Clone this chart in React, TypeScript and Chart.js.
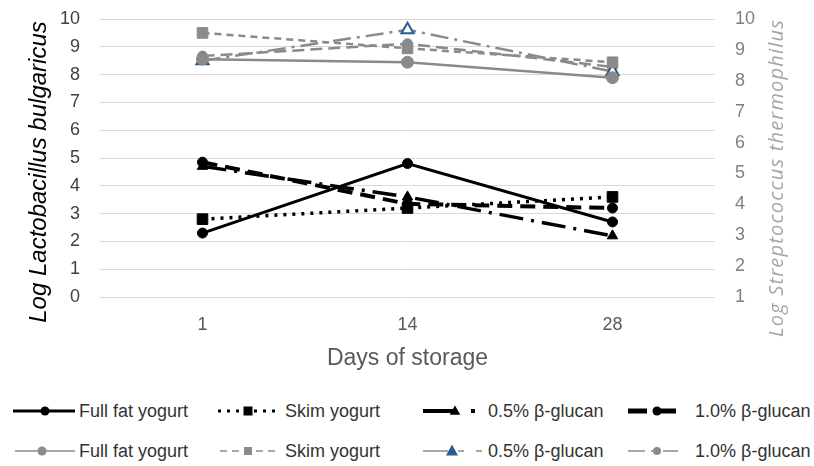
import React, { useEffect, useRef } from 'react';
import { Chart, registerables } from 'chart.js';
Chart.register(...registerables);

// ---- data ----
const days = ['1', '14', '28'];
const seriesNames = ['Full fat yogurt', 'Skim yogurt', '0.5% β-glucan', '1.0% β-glucan'];
// Lactobacillus bulgaricus (left axis, black)
const lbFullFat = [2.3, 4.8, 2.7];
const lbSkim = [2.8, 3.2, 3.6];
const lb05 = [4.7, 3.6, 2.2];
const lb10 = [4.85, 3.35, 3.2];
// Streptococcus thermophilus (right axis, grey)
const stFullFat = [8.7, 8.6, 8.1];
const stSkim = [9.55, 9.05, 8.6];
const st05 = [8.65, 9.65, 8.3];
const st10 = [8.8, 9.2, 8.45];
const leftRange = [0, 10];
const rightRange = [1, 10];
const xTitle = 'Days of storage';
const leftTitle = 'Log Lactobacillus bulgaricus';
const rightTitle = 'Log Streptococcus thermophilus';

const BLACK = '#000000';
const GREY = '#8a8a8a';
const BLUE = '#255e91';

const titlesPlugin = {
  id: 'sideTitles',
  afterDraw(chart: any) {
    const ctx = chart.ctx;
    ctx.save();
    ctx.translate(39, 172);
    ctx.rotate(-Math.PI / 2);
    ctx.font = 'italic 24px "Liberation Sans", Arial, sans-serif';
    ctx.fillStyle = '#000000';
    ctx.textAlign = 'center';
    ctx.textBaseline = 'middle';
    ctx.fillText(leftTitle, 0, 0);
    ctx.restore();

    ctx.save();
    ctx.translate(777, 178);
    ctx.rotate(-Math.PI / 2);
    ctx.font = 'italic 20px "Open Sans", "Noto Sans", sans-serif';
    try { (ctx as any).letterSpacing = '1.2px'; } catch (e) {}
    ctx.fillStyle = '#a6a6a6';
    ctx.textAlign = 'center';
    ctx.textBaseline = 'middle';
    ctx.fillText(rightTitle, 0, 0);
    ctx.restore();
  },
};

type Sym = {
  x1: number; x2: number; cx: number; color: string; width: number;
  dash?: string; marker: 'circle' | 'square' | 'triangle'; mColor: string; mSize: number;
};

const legendRows: { y: number; items: (Sym & { label: string; tx: number })[] }[] = [
  {
    y: 411,
    items: [
      { label: seriesNames[0], tx: 79, x1: 13, x2: 75, cx: 45, color: BLACK, width: 3, marker: 'circle', mColor: BLACK, mSize: 4.5 },
      { label: seriesNames[1], tx: 285, x1: 218, x2: 276, cx: 248, color: BLACK, width: 3, dash: '3 6', marker: 'square', mColor: BLACK, mSize: 9 },
      { label: seriesNames[2], tx: 488, x1: 423, x2: 477, cx: 455, color: BLACK, width: 4, dash: '33 15 4 20', marker: 'triangle', mColor: BLACK, mSize: 7 },
      { label: seriesNames[3], tx: 695, x1: 628, x2: 678, cx: 657, color: BLACK, width: 5, dash: '19 10', marker: 'circle', mColor: BLACK, mSize: 4.5 },
    ],
  },
  {
    y: 451,
    items: [
      { label: seriesNames[0], tx: 79, x1: 15, x2: 75, cx: 42, color: GREY, width: 1.5, marker: 'circle', mColor: GREY, mSize: 4.5 },
      { label: seriesNames[1], tx: 285, x1: 220, x2: 278, cx: 248, color: GREY, width: 1.5, dash: '7 5', marker: 'square', mColor: GREY, mSize: 8 },
      { label: seriesNames[2], tx: 488, x1: 423, x2: 483, cx: 452, color: GREY, width: 1.5, dash: '25 10 6 12 6', marker: 'triangle', mColor: BLUE, mSize: 8 },
      { label: seriesNames[3], tx: 695, x1: 628, x2: 678, cx: 657, color: GREY, width: 1.5, dash: '17 6 6 6', marker: 'circle', mColor: GREY, mSize: 4 },
    ],
  },
];

function LegendItem({ it, y }: { it: Sym & { label: string; tx: number }; y: number }) {
  const h = 20;
  const my = h / 2;
  const left = it.x1 - 4;
  const w = it.x2 - it.x1 + 8;
  const cx = it.cx - left;
  let marker: any = null;
  if (it.marker === 'circle') marker = <circle cx={cx} cy={my} r={it.mSize} fill={it.mColor} />;
  else if (it.marker === 'square') marker = <rect x={cx - it.mSize / 2} y={my - it.mSize / 2} width={it.mSize} height={it.mSize} fill={it.mColor} />;
  else {
    const s = it.mSize;
    marker = <polygon points={`${cx},${my - s * 0.8} ${cx - s * 0.75},${my + s * 0.55} ${cx + s * 0.75},${my + s * 0.55}`} fill={it.mColor} />;
  }
  return (
    <>
      <svg style={{ position: 'absolute', left, top: y - h / 2 }} width={w} height={h}>
        <line x1={4} x2={w - 4} y1={my} y2={my} stroke={it.color} strokeWidth={it.width} strokeDasharray={it.dash} />
        {marker}
      </svg>
      <div style={{ position: 'absolute', left: it.tx, top: y - 11, height: 22, lineHeight: '22px', fontSize: 18, fontFamily: '"Liberation Sans", Arial, sans-serif', color: '#333333', whiteSpace: 'nowrap' }}>
        {it.label}
      </div>
    </>
  );
}

export default function App() {
  const ref = useRef<HTMLCanvasElement | null>(null);
  useEffect(() => {
    document.body.style.margin = '0';
    const canvas = ref.current;
    if (!canvas) return;
    const black = (label: string, data: number[], style: string, dash: number[], width: number, radius: number) => ({
      label, data, yAxisID: 'y', borderColor: BLACK, backgroundColor: BLACK, borderWidth: width, borderDash: dash,
      pointStyle: style, pointRadius: radius, pointBackgroundColor: BLACK, pointBorderColor: BLACK, pointBorderWidth: 1, tension: 0, fill: false,
    });
    const grey = (label: string, data: number[], style: string, dash: number[], radius: number, pbg: string, pbc: string) => ({
      label, data, yAxisID: 'y1', borderColor: GREY, backgroundColor: GREY, borderWidth: 2.5, borderDash: dash,
      pointStyle: style, pointRadius: radius, pointBackgroundColor: pbg, pointBorderColor: pbc, pointBorderWidth: pbc === BLUE ? 2 : 1, tension: 0, fill: false,
    });
    const fitV = (w: number) => (s: any) => { s.width = w; s.paddingTop = 0; s.paddingBottom = 0; };
    const chart = new Chart(canvas, {
      type: 'line',
      data: {
        labels: days,
        datasets: [
          black(seriesNames[0], lbFullFat, 'circle', [], 3, 5),
          black(seriesNames[1], lbSkim, 'rect', [3, 6], 3.5, 7.5),
          black(seriesNames[2], lb05, 'triangle', [24, 8, 3, 8], 3.5, 6),
          black(seriesNames[3], lb10, 'circle', [15, 8], 4, 5),
          grey(seriesNames[0], stFullFat, 'circle', [], 6, GREY, GREY),
          grey(seriesNames[1], stSkim, 'rect', [7, 5], 7.5, GREY, GREY),
          grey(seriesNames[2], st05, 'triangle', [18, 6, 3, 6], 7, '#ffffff', BLUE),
          grey(seriesNames[3], st10, 'circle', [12, 6], 5, GREY, GREY),
        ] as any,
      },
      options: {
        animation: false,
        responsive: false,
        maintainAspectRatio: false,
        layout: { padding: { top: 19, left: 0, right: 0, bottom: 0 } },
        plugins: { legend: { display: false }, tooltip: { enabled: false } },
        scales: {
          x: {
            offset: true,
            grid: { display: false, drawTicks: false },
            border: { display: false },
            ticks: { padding: 17, color: '#595959', font: { size: 18, family: '"Liberation Sans", Arial, sans-serif' } },
            title: { display: true, text: xTitle, color: '#595959', padding: { top: 0, bottom: 18 }, font: { size: 23, family: '"Liberation Sans", Arial, sans-serif' } },
            afterFit: (s: any) => { s.height = 93; s.paddingLeft = 0; s.paddingRight = 0; },
          },
          y: {
            position: 'left',
            min: leftRange[0], max: leftRange[1],
            grid: { color: '#d9d9d9', lineWidth: 1, drawTicks: false },
            border: { display: false },
            ticks: { stepSize: 1, padding: 20, color: '#404040', font: { size: 18, family: '"Liberation Sans", Arial, sans-serif' } },
            afterFit: fitV(100),
          },
          y1: {
            position: 'right',
            min: rightRange[0], max: rightRange[1],
            grid: { display: false, drawTicks: false },
            border: { display: false },
            ticks: { stepSize: 1, padding: 20, color: '#808080', font: { size: 18, family: '"Liberation Sans", Arial, sans-serif' } },
            afterFit: fitV(99),
          },
        },
      } as any,
      plugins: [titlesPlugin],
    });
    return () => chart.destroy();
  }, []);

  return (
    <div style={{ position: 'relative', width: 814, height: 466, background: '#ffffff', overflow: 'hidden' }}>
      <canvas ref={ref} width={814} height={390} style={{ position: 'absolute', left: 0, top: 0, width: 814, height: 390 }} />
      {legendRows.map((row, ri) => row.items.map((it, ii) => <LegendItem key={`${ri}-${ii}`} it={it} y={row.y} />))}
    </div>
  );
}
